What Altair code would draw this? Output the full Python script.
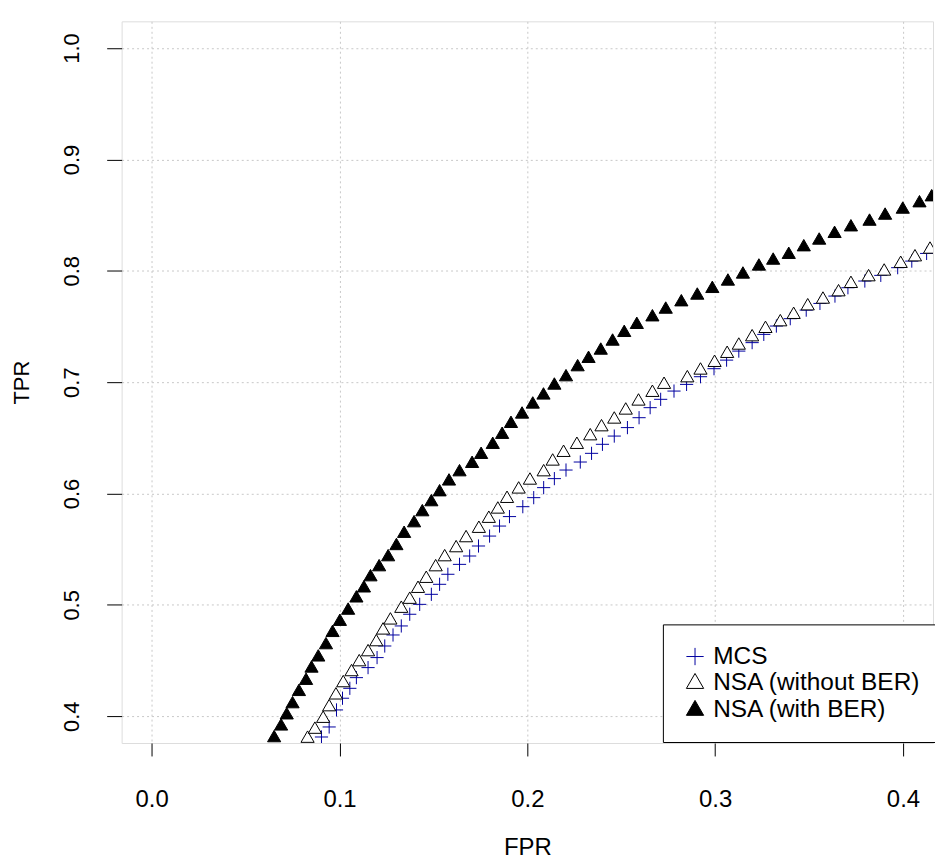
import altair as alt
import pandas as pd

series_names = ["MCS", "NSA (without BER)", "NSA (with BER)"]

mcs_fpr = [0.0904, 0.0945, 0.0984, 0.1016, 0.1055, 0.1090, 0.1152, 0.1200, 0.1241, 0.1285,
           0.1329, 0.1374, 0.1427, 0.1489, 0.1533, 0.1577, 0.1639, 0.1693, 0.1740, 0.1799,
           0.1852, 0.1905, 0.1976, 0.2034, 0.2087, 0.2144, 0.2206, 0.2282, 0.2342, 0.2400,
           0.2463, 0.2533, 0.2595, 0.2654, 0.2710, 0.2781, 0.2848, 0.2922, 0.2994, 0.3061,
           0.3126, 0.3197, 0.3259, 0.3326, 0.3400, 0.3485, 0.3558, 0.3638, 0.3707, 0.3797,
           0.3882, 0.3972, 0.4047, 0.4126]
mcs_tpr = [0.3814, 0.3904, 0.4057, 0.4162, 0.4251, 0.4347, 0.4437, 0.4527, 0.4631, 0.4730,
           0.4811, 0.4916, 0.5005, 0.5095, 0.5185, 0.5275, 0.5364, 0.5439, 0.5529, 0.5618,
           0.5708, 0.5793, 0.5882, 0.5963, 0.6053, 0.6134, 0.6211, 0.6283, 0.6361, 0.6442,
           0.6516, 0.6592, 0.6681, 0.6771, 0.6846, 0.6920, 0.6980, 0.7049, 0.7121, 0.7198,
           0.7279, 0.7355, 0.7429, 0.7504, 0.7570, 0.7647, 0.7707, 0.7773, 0.7848, 0.7908,
           0.7959, 0.8028, 0.8087, 0.8156]

nsa_fpr = [0.0830, 0.0869, 0.0913, 0.0945, 0.0981, 0.1020, 0.1064, 0.1105, 0.1152, 0.1196,
           0.1232, 0.1271, 0.1329, 0.1374, 0.1418, 0.1462, 0.1512, 0.1560, 0.1621, 0.1674,
           0.1742, 0.1795, 0.1843, 0.1892, 0.1954, 0.2014, 0.2087, 0.2135, 0.2193, 0.2264,
           0.2335, 0.2395, 0.2463, 0.2524, 0.2592, 0.2666, 0.2728, 0.2852, 0.2922, 0.2997,
           0.3064, 0.3126, 0.3197, 0.3268, 0.3347, 0.3418, 0.3493, 0.3574, 0.3657, 0.3723,
           0.3817, 0.3900, 0.3988, 0.4064, 0.4144]
nsa_tpr = [0.3800, 0.3881, 0.3979, 0.4083, 0.4189, 0.4299, 0.4398, 0.4487, 0.4577, 0.4667,
           0.4772, 0.4862, 0.4967, 0.5048, 0.5146, 0.5236, 0.5340, 0.5430, 0.5511, 0.5601,
           0.5685, 0.5775, 0.5858, 0.5954, 0.6038, 0.6118, 0.6193, 0.6289, 0.6367, 0.6439,
           0.6516, 0.6597, 0.6666, 0.6747, 0.6828, 0.6906, 0.6978, 0.7037, 0.7106, 0.7175,
           0.7256, 0.7330, 0.7405, 0.7480, 0.7540, 0.7606, 0.7683, 0.7743, 0.7809, 0.7884,
           0.7944, 0.7995, 0.8064, 0.8123, 0.8192]

ber_fpr = [0.0652, 0.0689, 0.0719, 0.0750, 0.0784, 0.0822, 0.0851, 0.0887, 0.0928, 0.0963,
           0.1002, 0.1046, 0.1090, 0.1130, 0.1165, 0.1211, 0.1259, 0.1303, 0.1344, 0.1397,
           0.1441, 0.1489, 0.1533, 0.1583, 0.1639, 0.1706, 0.1754, 0.1816, 0.1866, 0.1913,
           0.1972, 0.2029, 0.2086, 0.2144, 0.2206, 0.2268, 0.2326, 0.2391, 0.2454, 0.2516,
           0.2583, 0.2666, 0.2737, 0.2820, 0.2905, 0.2985, 0.3068, 0.3148, 0.3233, 0.3309,
           0.3392, 0.3472, 0.3554, 0.3636, 0.3723, 0.3822, 0.3905, 0.3999, 0.4088, 0.4153]
ber_tpr = [0.3805, 0.3910, 0.4010, 0.4110, 0.4220, 0.4320, 0.4430, 0.4530, 0.4640, 0.4750,
           0.4850, 0.4950, 0.5060, 0.5150, 0.5250, 0.5340, 0.5430, 0.5530, 0.5640, 0.5735,
           0.5834, 0.5924, 0.6013, 0.6110, 0.6193, 0.6268, 0.6349, 0.6439, 0.6529, 0.6627,
           0.6711, 0.6801, 0.6882, 0.6971, 0.7046, 0.7136, 0.7211, 0.7285, 0.7366, 0.7444,
           0.7516, 0.7584, 0.7653, 0.7719, 0.7779, 0.7839, 0.7905, 0.7968, 0.8040, 0.8093,
           0.8145, 0.8213, 0.8273, 0.8333, 0.8392, 0.8443, 0.8497, 0.8551, 0.8608, 0.8662]

x_ticks = [0.0, 0.1, 0.2, 0.3, 0.4]
y_ticks = [0.4, 0.5, 0.6, 0.7, 0.8, 0.9, 1.0]

rows = []
k = 0
for name, xs, ys in [(series_names[0], mcs_fpr, mcs_tpr),
                     (series_names[1], nsa_fpr, nsa_tpr),
                     (series_names[2], ber_fpr, ber_tpr)]:
    for xv, yv in zip(xs, ys):
        rows.append({"series": name, "FPR": xv, "TPR": yv, "ord": k})
        k += 1
df = pd.DataFrame(rows)

PLUS = "M-1,0L1,0M0,-1L0,1"
TRI = "M0,-1.155L1,0.577L-1,0.577Z"
FONT = "Liberation Sans, Arial, sans-serif"
GRID = "#c8c8c8"

legend = alt.Legend(
    title=None, orient="none", legendX=543, legendY=605,
    padding=20, strokeColor="black", fillColor="white", cornerRadius=0,
    labelFont=FONT, labelFontSize=24.5, labelColor="black", labelOffset=6,
    labelLimit=500,
    symbolSize=300, symbolStrokeWidth=1, rowPadding=2, symbolOpacity=1,
)

chart = alt.Chart(df).mark_point(size=175, opacity=1, strokeWidth=1, clip=True).encode(
    x=alt.X("FPR:Q",
            scale=alt.Scale(domain=[-0.016, 0.416], nice=False, zero=False),
            axis=alt.Axis(values=x_ticks, format=".1f", title="FPR",
                          domain=False, tickColor="black", tickWidth=1,
                          tickSize=13, labelPadding=51, labelBaseline="alphabetic",
                          labelFont=FONT, labelColor="black",
                          labelFontSize=24, labelFlush=False, labelOverlap=False,
                          grid=True, gridColor=GRID, gridDash=[2, 3], gridWidth=1,
                          titleFont=FONT, titleFontWeight="normal", titleColor="black",
                          titleFontSize=24, titleX=407, titleY=112,
                          titleBaseline="alphabetic", titleAlign="center")),
    y=alt.Y("TPR:Q",
            scale=alt.Scale(domain=[0.376, 1.024], nice=False, zero=False),
            axis=alt.Axis(values=y_ticks, format=".1f", title="TPR",
                          domain=False, tickColor="black", tickWidth=1,
                          tickSize=15, labelPadding=28, labelAngle=270,
                          labelAlign="center", labelBaseline="alphabetic",
                          labelFont=FONT, labelColor="black",
                          labelFontSize=22, labelFlush=False, labelOverlap=False,
                          grid=True, gridColor=GRID, gridDash=[2, 3], gridWidth=1,
                          titleFont=FONT, titleFontWeight="normal", titleColor="black",
                          titleFontSize=22, titleAngle=270, titleX=-93, titleY=362,
                          titleBaseline="alphabetic", titleAlign="center")),
    shape=alt.Shape("series:N", scale=alt.Scale(domain=series_names, range=[PLUS, TRI, TRI]), legend=legend),
    fill=alt.Fill("series:N", scale=alt.Scale(domain=series_names, range=["white", "white", "black"]), legend=legend),
    stroke=alt.Stroke("series:N", scale=alt.Scale(domain=series_names, range=["#0000A0", "black", "black"]), legend=legend),
    order=alt.Order("ord:Q"),
).properties(
    width=814, height=724,
    autosize=alt.AutoSizeParams(type="none"),
    padding={"left": 114, "top": 12, "right": 2, "bottom": 115},
).configure_view(
    stroke="black", strokeWidth=1, fill="white"
).configure(background="white")

chart.save("out.html", embed_options={"renderer": "svg", "actions": False})
